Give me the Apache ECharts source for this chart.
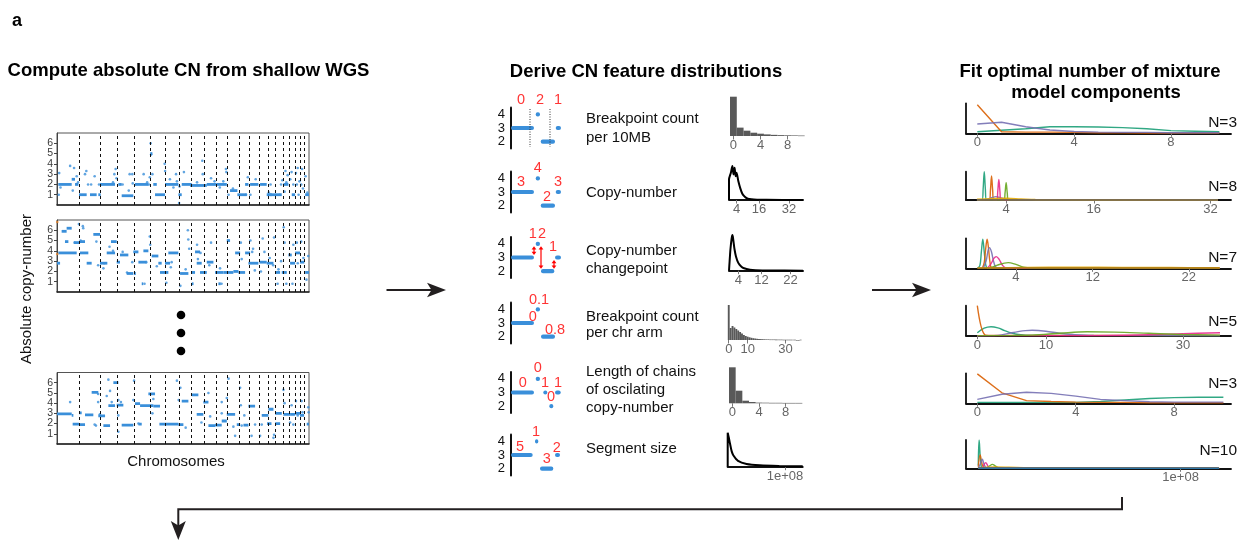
<!DOCTYPE html>
<html>
<head>
<meta charset="utf-8">
<script src="https://cdn.jsdelivr.net/npm/echarts@6/dist/echarts.min.js"></script>
<style>
  html, body { margin: 0; padding: 0; background: #fff; }
  #chart { width: 1239px; height: 540px; }
</style>
</head>
<body>
<div id="chart"></div>
<script>
// ---------------------------------------------------------------------------
// Data
// ---------------------------------------------------------------------------

// hg19 autosome lengths, Mb
const chromLengths = [249, 243, 198, 191, 181, 171, 159, 146, 141, 136, 135, 134,
                      115, 107, 103, 90, 81, 78, 59, 63, 48, 51];
const cnTicks = [1, 2, 3, 4, 5, 6];

// Copy-number segments per sample: [start Mb, end Mb, absolute CN]
const sampleASegments = [
  [15,168,2],[168,206,2.5],[206,244,2],[251,339,1],[377,453,1],[472,499,1],
  [491,663,2],[701,739,2],[739,872,0.9],[891,1044,2],[1065,1090,5],[1100,1140,2],
  [1120,1234,1],[1234,1387,2],[1387,1425,1],[1425,1540,2],[1520,1711,1.9],
  [1711,1825,2],[1825,1940,2],[1977,2061,1.4],[2061,2168,1],[2149,2187,2],
  [2206,2301,2],[2320,2396,2],[2396,2454,1],[2434,2568,1],[2587,2644,2],
  [2682,2720,1],[2835,2880,1]
];
// Isolated bins: [position Mb, absolute CN]
const sampleAPoints = [
  [20,1],[25,3.1],[40,1.7],[150,3.8],[195,3.6],[180,1.4],[225,2.8],[240,2.2],
  [320,3.0],[335,3.3],[355,2],[390,2],[480,2],[430,2.8],[655,3.0],[670,3.5],
  [680,2.6],[640,2.2],[750,2],[830,3.0],[860,3.0],[820,1.4],[865,2.1],[990,3.0],
  [1030,2.2],[1050,2.0],[1060,2.7],[1070,6.0],[1075,4.9],[1230,4.0],[1235,3.3],
  [1090,3.0],[1330,1.7],[1360,3.0],[1290,2.5],[1370,2.3],[1395,0.2],[1450,3.2],
  [1400,1.8],[1660,4.3],[1665,3.0],[1600,2.2],[1800,2.3],[1760,2.6],[1860,1.7],
  [1930,3.5],[1935,3.2],[1900,2.3],[1960,1.0],[2010,1.6],[2180,2.7],[2160,1.0],
  [2210,1.0],[2270,2.5],[2440,2.0],[2420,1.2],[2560,2.0],[2575,2.4],[2545,1.0],
  [2610,3.3],[2600,1.3],[2620,2.2],[2635,2.9],[2665,2.5],[2680,3.2],[2700,2.0],
  [2730,3.1],[2740,2.0],[2760,1.0],[2770,2.3],[2750,3.6],[2790,2.0],[2800,3.5],
  [2810,1.6],[2840,2.8],[2860,1.2]
];

const sampleBSegments = [
  [0,35,2.8],[15,225,3.8],[53,110,5.9],[110,168,6.2],[91,130,4.9],[194,263,4.8],
  [263,358,3.8],[263,320,4.9],[339,396,2.8],[415,491,5.6],[491,575,2.8],
  [568,663,3.8],[617,682,4.9],[682,720,2.9],[720,815,3.6],[796,872,1.8],
  [872,930,3.9],[930,1025,2.9],[968,985,0.8],[987,1044,4.0],[880,900,1.8],
  [1082,1158,3.5],[1158,1196,2.8],[1177,1272,1.9],[1234,1292,2.8],
  [1272,1387,3.8],[1406,1501,1.8],[1540,1560,0.8],[1540,1577,1.9],
  [1577,1634,3.9],[1596,1653,2.8],[1634,1711,1.9],[1711,1787,2.9],
  [1806,1901,1.9],[1844,1870,0.8],[1940,1977,5.0],[1901,2015,1.9],
  [2015,2073,2.0],[2073,2149,1.9],[2035,2092,3.8],[2149,2206,3.8],
  [2187,2301,2.8],[2313,2396,2.9],[2396,2473,2.8],[2492,2549,1.9],
  [2568,2625,1.9],[2644,2682,3.6],[2663,2720,2.8],[2720,2777,3.8],
  [2777,2826,2.9],[2835,2880,1.9]
];
const sampleBPoints = [
  [250,6.6],[300,6.2],[270,5.0],[295,6.4],[450,4.9],[470,2.6],[530,2.3],[200,4.8],
  [540,2.8],[600,4.4],[640,4.0],[750,3.9],[800,1.9],[860,2.9],[1000,0.8],[1020,2.9],
  [1060,5.4],[1065,4.6],[1140,2.5],[1250,0.9],[1310,2.9],[1300,2.4],[1410,0.6],
  [1470,2.2],[1500,5.1],[1495,6.0],[1510,4.2],[1640,3.8],[1600,4.6],[1610,3.2],
  [1760,4.8],[1740,2.6],[1863,2.3],[1880,0.8],[2100,4.8],[2110,3.2],[2240,4.2],
  [2210,5.0],[2230,3.9],[2260,2.1],[2330,2.0],[2350,5.2],[2370,3.9],[2470,2.6],
  [2480,5.3],[2430,3.3],[2520,0.8],[2560,3.0],[2530,2.2],[2590,6.3],[2600,4.8],
  [2620,0.8],[2690,0.8],[2700,4.6],[2740,4.8],[2750,2.8],[2790,4.9],[2815,3.3],
  [2850,1.2],[2870,3.5]
];
const sampleBFlagged = [[3,6.8],[3,3.7]];

const sampleCSegments = [
  [0,168,2.95],[168,187,2.8],[179,251,1.95],[263,320,1.9],[251,282,3.05],
  [320,415,2.85],[396,472,5.05],[472,549,2.75],[587,663,3.75],[530,606,1.8],
  [644,701,6.0],[682,758,3.8],[739,872,1.85],[891,949,3.95],[930,968,1.95],
  [949,1101,3.75],[1044,1120,4.9],[1101,1177,3.7],[1170,1387,1.95],
  [1387,1444,1.9],[1425,1501,4.2],[1540,1615,4.8],[1596,1672,2.9],
  [1672,1730,4.1],[1730,1806,1.8],[1806,1882,1.85],[1882,1940,2.25],
  [1940,2035,2.9],[2054,2092,1.9],[2130,2187,1.85],[2187,2263,3.7],
  [2339,2415,2.8],[2415,2473,3.4],[2400,2450,2.0],[2492,2568,3.0],
  [2492,2549,2.0],[2587,2663,2.9],[2663,2720,2.9],[2720,2777,3.0],
  [2777,2823,2.8],[2853,2880,1.95]
];
const sampleCPoints = [
  [150,4.1],[470,4.9],[470,4.1],[445,1.8],[490,2.9],[430,1.9],[568,4.7],[587,6.3],
  [606,5.2],[625,4.1],[701,4.3],[701,2.8],[701,1.2],[730,4.1],[880,6.2],[872,4.3],
  [930,2.0],[1101,4.4],[1090,3.0],[1370,6.2],[1390,4.3],[1410,5.5],[1470,1.6],
  [1650,2.1],[1730,5.0],[1750,2.7],[1882,4.1],[1882,3.0],[1940,4.5],[1960,6.4],
  [2015,1.7],[2035,0.8],[2092,5.5],[2100,3.8],[2110,1.8],[2140,2.8],[2223,0.8],
  [2263,1.9],[2320,0.8],[2339,1.9],[2473,0.6],[2480,0.9],[2587,5.3],[2600,4.0],
  [2663,2.1],[2700,1.9],[2680,3.8],[2730,4.2],[2750,2.8],[2795,4.2],[2805,3.1],
  [2870,3.6],[2875,3.1]
];

// Feature names (one entry per text line)
const featureNames = [
  ['Breakpoint count', 'per 10MB'],
  ['Copy-number'],
  ['Copy-number', 'changepoint'],
  ['Breakpoint count', 'per chr arm'],
  ['Length of chains', 'of oscilating', 'copy-number'],
  ['Segment size']
];

// Toy profile used in each feature sketch: [start, end, CN]
const toyProfiles = [
  [[0,23,3],[24.7,29,4],[29.7,44,2],[44.7,50,3]],
  [[0,23,3],[24.7,29,4],[29.7,44,2],[44.7,50,3]],
  [[0,23,3],[24.7,29,4],[30,43.3,2],[44,50,3]],
  [[0,23,3],[24.7,29,4],[30,44,2]],
  [[0,23,3],[24.7,29,4],[32.3,36.3,3],[38.3,42.3,2],[44,49.7,3]],
  [[0,21.7,3],[24,27.3,4],[29,42.3,2],[44,49,3]]
];
// Feature value
const toyFeatureValues = [
  ['0', '2', '1'],
  ['3', '4', '2', '3'],
  ['1', '2', '1'],
  ['0.1', '0', '0.8'],
  ['0', '0', '1', '0', '1'],
  ['5', '1', '3', '2']
];
const toyWindowBreaks = [19, 39];                 // 10MB windows in sketch 1
const toyChangepoints = [[23, 3, 4], [30, 4, 2], [43, 2, 3]];
const toyTicks = [2, 3, 4];

// Feature distributions
const breakpoint10MBFreq = [0.68, 0.145, 0.092, 0.057, 0.04, 0.028, 0.02, 0.015, 0.012, 0.01, 0.008];
const breakpoint10MBTicks = [0, 4, 8];
const copyNumberDensity = [
  [0,0],[0,0.6],[1,0.8],[1.8,1.0],[2.4,0.75],[3,0.95],[3.5,0.7],[4,0.8],[5,0.55],
  [6,0.35],[7,0.2],[8,0.12],[9,0.07],[10,0.04],[12,0.02],[15,0.01],[20,0.005],[39.5,0]
];
const copyNumberTicks = [4, 16, 32];
const changepointDensity = [
  [0.8,0],[1.0,0.25],[1.3,0.6],[1.7,0.9],[2.0,1.0],[2.3,0.85],[2.7,0.6],[3.2,0.4],
  [4,0.22],[5,0.12],[6,0.07],[8,0.03],[10,0.015],[15,0.005],[26.3,0]
];
const changepointTicks = [4, 12, 22];
const breakpointArmFreq = [
  35, 12, 14, 12.5, 11, 9.5, 8, 6.5, 5, 4, 3.3, 2.7, 2.2, 1.8, 1.5, 1.2, 1, 0.9, 0.8,
  0.7, 0.6, 0.6, 0.5, 0.5, 0.5, 0.4, 0.4, 0.4, 0.4, 0.3, 0.3, 0.3, 0.3, 0.3, 0.3,
  0.3, 0, 0, 0.3
];
const breakpointArmTicks = [0, 10, 30];
const oscillationFreq = [36, 12.6, 2.6, 1.3, 0.7, 0.6, 0.5, 0.5, 0.4, 0.4, 0.4];
const oscillationTicks = [0, 4, 8];
const segmentSizeDensity = [
  [0,0],[0,1.0],[2e6,0.85],[4e6,0.68],[7e6,0.45],[1e7,0.33],[1.8e7,0.17],
  [3.3e7,0.08],[5.6e7,0.04],[9e7,0.02],[1.31e8,0.01]
];
const segmentSizeTicks = [1e8];

// Fitted mixture components, one list of [x, density] per component
const fitBreakpoint10MB = [
  [[0,0.05],[1,0.1],[2,0.15],[3,0.22],[4,0.22],[5,0.21],[6,0.19],[7,0.15],[8,0.09],[9,0.07],[10,0.05]],
  [[0,0.95],[1,0.05],[2,0.04],[3,0.04],[4,0.03],[5,0.02],[6,0.02],[7,0.01],[8,0.01],[9,0.01],[10,0.01]],
  [[0,0.31],[1,0.37],[2,0.22],[3,0.11],[4,0.06],[5,0.04],[6,0.03],[7,0.03],[8,0.02],[9,0.02],[10,0.02]]
];
const fitCopyNumber = [
  [[0,0],[0.7,0],[0.85,0.4],[1,1.0],[1.15,0.4],[1.3,0],[33,0]],
  [[0,0],[1.7,0],[1.85,0.35],[2,0.85],[2.15,0.35],[2.3,0],[33,0]],
  [[0,0],[1,0],[2,0.08],[2.6,0.12],[3.2,0.08],[4,0.03],[5,0.01],[33,0]],
  [[0,0],[2.7,0],[2.85,0.3],[3,0.73],[3.15,0.3],[3.3,0],[33,0]],
  [[0,0],[3.7,0],[3.85,0.25],[4,0.61],[4.15,0.25],[4.3,0],[33,0]],
  [[0,0.03],[2,0.05],[4,0.06],[6,0.04],[8,0.02],[15,0.01],[33,0.005]],
  [[0,0.01],[10,0.015],[20,0.012],[33,0.01]],
  [[0,0],[33,0]]
];
const fitChangepoint = [
  [[0,0],[0.25,0.1],[0.4,0.55],[0.55,0.97],[0.7,0.55],[0.85,0.12],[1.05,0.01],[25.2,0]],
  [[0.5,0],[0.7,0.2],[0.85,0.65],[1.0,0.97],[1.15,0.65],[1.3,0.2],[1.5,0.02],[25.2,0]],
  [[0.6,0],[0.9,0.25],[1.1,0.6],[1.25,0.69],[1.45,0.55],[1.7,0.2],[2.0,0.03],[25.2,0]],
  [[1.0,0],[1.4,0.15],[1.7,0.33],[1.95,0.39],[2.25,0.3],[2.6,0.1],[3.0,0.01],[25.2,0]],
  [[1.2,0],[2,0.1],[3.2,0.19],[4,0.13],[4.8,0.04],[6,0.01],[25.2,0.005]],
  [[0,0.01],[5,0.03],[10,0.035],[15,0.03],[20,0.025],[25.2,0.02]],
  [[0,0.01],[25.2,0.01]]
];
const fitBreakpointArm = [
  [[0,0.1],[1,0.25],[2,0.3],[3,0.26],[4,0.17],[5,0.09],[6,0.04],[8,0.01],[35.4,0]],
  [[0,1.0],[1.1,0.03],[2,0.01],[35.4,0.005]],
  [[0,0],[3,0.01],[5,0.1],[7,0.17],[8,0.18],[10,0.15],[12,0.08],[14,0.04],[17,0.01],[35.4,0]],
  [[0,0],[15,0],[25,0.03],[30,0.07],[35.4,0.1]],
  [[0,0],[8,0.02],[12,0.08],[16,0.13],[20,0.12],[25,0.08],[30,0.04],[35.4,0.02]]
];
const fitOscillation = [
  [[0,0.03],[1,0.03],[2,0.03],[3,0.03],[4,0.03],[5,0.06],[6,0.11],[7,0.16],[8,0.19],[9,0.2],[10,0.2]],
  [[0,0.98],[1,0.35],[2,0.09],[3,0.06],[4,0.04],[5,0.03],[6,0.03],[7,0.02],[8,0.02],[9,0.02],[10,0.02]],
  [[0,0.13],[1,0.3],[2,0.37],[3,0.33],[4,0.24],[5,0.13],[6,0.09],[7,0.05],[8,0.04],[9,0.04],[10,0.04]]
];
const fitSegmentSize = [
  [[0,0.1],[4e5,1.0],[1.5e6,0.05],[3e6,0.01],[1.19e8,0]],
  [[0,0.05],[9e5,0.47],[2e6,0.12],[3e6,0.03],[6e6,0.01],[1.19e8,0.005]],
  [[0,0],[1e6,0.15],[2e6,0.32],[2.6e6,0.2],[3.5e6,0.05],[5e6,0.01],[1.19e8,0]],
  [[0,0],[2e6,0],[2.8e6,0.12],[3.7e6,0.2],[4.6e6,0.1],[5.5e6,0.02],[1.19e8,0]],
  [[0,0],[4e6,0],[5.5e6,0.08],[7e6,0.14],[8.5e6,0.08],[1e7,0.02],[1.19e8,0]],
  [[0,0.02],[8e6,0.05],[1.5e7,0.04],[2.5e7,0.02],[5e7,0.01],[1.19e8,0.005]],
  [[0,0.01],[2e7,0.02],[6e7,0.015],[1.19e8,0.01]],
  [[0,0.01],[1.19e8,0.01]],
  [[0,0.004],[1.19e8,0.006]],
  [[0,0],[1.19e8,0]]
];
const fitTicks = [[0, 4, 8], [4, 16, 32], [4, 12, 22], [0, 10, 30], [0, 4, 8], [1e8]];

// ---------------------------------------------------------------------------
// Styling and layout
// ---------------------------------------------------------------------------
const FONT = '"Liberation Sans", Arial, Helvetica, sans-serif';
const INK = '#231f20';
const CN_BLUE = '#3a8fda';
const RED = '#ff0000';
const HIST_GREY = '#595959';
const TICK_GREY = '#666666';
const DARK2 = ['#1B9E77', '#D95F02', '#7570B3', '#E7298A', '#66A61E',
               '#E6AB02', '#A6761D', '#666666', '#B15928', '#1F78B4'];
const colourOrder = [
  [0, 1, 2],
  [0, 1, 2, 3, 4, 5, 6, 7],
  [0, 1, 2, 3, 4, 5, 6],
  [0, 1, 2, 3, 4],
  [0, 1, 2],
  [0, 1, 2, 3, 4, 5, 6, 7, 8, 9]
];

const sciLabel = v => {
  const [m, e] = v.toExponential(0).split('e');
  return m + 'e' + e[0] + e.slice(1).padStart(2, '0');
};

// Grid i owns xAxis i and yAxis i; label-only companion y axes are appended
// after all grids so those indices stay aligned.
const grids = [], xAxes = [], yAxes = [], labelAxes = [], series = [];
function addGrid(box, x, y) {
  const i = grids.length;
  grids.push(Object.assign({ outerBoundsMode: 'none', containLabel: false }, box));
  xAxes.push(Object.assign({ gridIndex: i, type: 'value', splitLine: { show: false } }, x));
  yAxes.push(Object.assign({ gridIndex: i, type: 'value', splitLine: { show: false } }, y));
  return i;
}

// --- genome-wide copy-number profiles ------------------------------------
const genomeLen = chromLengths.reduce((a, b) => a + b, 0);
const chromBreaks = [];
chromLengths.slice(0, -1).reduce((acc, l) => { chromBreaks.push(acc + l); return acc + l; }, 0);

const profileBoxes = [
  { left: 57, top: 133, width: 252, height: 72 },
  { left: 57, top: 220, width: 252, height: 72 },
  { left: 57, top: 372.5, width: 252, height: 71.5 }
];
const profiles = [
  [sampleASegments, sampleAPoints, []],
  [sampleBSegments, sampleBPoints, sampleBFlagged],
  [sampleCSegments, sampleCPoints, []]
];
// CN ticks are 10px apart: odd and even labels sit on two coincident axes so
// neither set is thinned out by the label-overlap pass.
const cnLabel = vals => ({ customValues: vals, fontSize: 10.5, color: '#3c3c3c', margin: 4,
  fontFamily: FONT, showMinLabel: true, showMaxLabel: true });

profiles.forEach(([segs, pts, flagged], k) => {
  const gi = addGrid(
    Object.assign({ show: true, borderColor: '#555', borderWidth: 1 }, profileBoxes[k]),
    { min: 0, max: genomeLen,
      axisLine: { show: true, onZero: false, lineStyle: { color: '#222', width: 1.6 } },
      axisTick: { show: false }, axisLabel: { show: false } },
    { min: 0, max: 7,
      axisLine: { show: true, lineStyle: { color: '#444', width: 1 } },
      axisTick: { show: true, length: 3, customValues: cnTicks, lineStyle: { color: '#444' } },
      axisLabel: cnLabel(cnTicks.filter(v => v % 2 === 1)) }
  );
  labelAxes.push({ gridIndex: gi, type: 'value', min: 0, max: 7, position: 'left', offset: 0,
    splitLine: { show: false }, axisLine: { show: false }, axisTick: { show: false },
    axisLabel: cnLabel(cnTicks.filter(v => v % 2 === 0)) });
  series.push({
    type: 'custom', xAxisIndex: gi, yAxisIndex: gi, data: segs, clip: true,
    encode: { x: [0, 1], y: 2 },
    renderItem: (p, api) => {
      const a = api.coord([api.value(0), api.value(2)]);
      const b = api.coord([api.value(1), api.value(2)]);
      return { type: 'rect',
        shape: { x: a[0], y: a[1] - 1.4, width: Math.max(b[0] - a[0], 1.5), height: 2.8 },
        style: { fill: CN_BLUE } };
    },
    markLine: {
      silent: true, symbol: 'none', label: { show: false }, animation: false,
      lineStyle: { color: '#111', width: 1, type: [3, 3] },
      data: chromBreaks.map(b => ({ xAxis: b }))
    }
  });
  series.push({
    type: 'scatter', xAxisIndex: gi, yAxisIndex: gi, data: pts, symbolSize: 2.6,
    itemStyle: { color: CN_BLUE }, silent: true
  });
  if (flagged.length) {
    series.push({
      type: 'scatter', xAxisIndex: gi, yAxisIndex: gi, data: flagged, symbolSize: 2.6,
      itemStyle: { color: '#e8862a' }, silent: true, clip: false
    });
  }
});

// --- feature sketches -----------------------------------------------------
const toyTops = [107.5, 171.5, 237, 302.5, 372, 434.5];
const toyLabelAnchors = [
  [[10, 5.05], [29, 5.05], [47, 5.05]],
  [[10, 3.75], [26.7, 4.76], [36, 2.63], [47, 3.75]],
  [[21.7, 4.72], [31, 4.72], [42, 3.79]],
  [[28, 4.68], [21.7, 3.44], [44, 2.49]],
  [[11.7, 3.70], [26.7, 4.79], [34, 3.70], [40, 2.67], [47, 3.70]],
  [[9, 3.56], [25, 4.70], [35.7, 2.69], [45.7, 3.49]]
];

toyProfiles.forEach((segs, k) => {
  const gi = addGrid(
    { left: 511, top: toyTops[k], width: 51, height: 41 },
    { min: 0, max: 51, show: false },
    { min: 1.5, max: 4.5,
      axisLine: { show: true, lineStyle: { color: '#111', width: 2 } },
      axisTick: { show: false },
      axisLabel: { customValues: toyTicks, fontSize: 13, color: '#111', margin: 6,
        fontFamily: FONT, showMinLabel: true, showMaxLabel: true } }
  );
  series.push({
    type: 'custom', xAxisIndex: gi, yAxisIndex: gi, data: segs, clip: false,
    encode: { x: [0, 1], y: 2 },
    renderItem: (p, api) => {
      const a = api.coord([api.value(0), api.value(2)]);
      const b = api.coord([api.value(1), api.value(2)]);
      return { type: 'rect',
        shape: { x: a[0], y: a[1] - 2.1, width: b[0] - a[0], height: 4.2, r: 2 },
        style: { fill: CN_BLUE } };
    }
  });
  if (k === 0) {
    series.push({
      type: 'custom', xAxisIndex: gi, yAxisIndex: gi, data: toyWindowBreaks.map(x => [x]), clip: false,
      renderItem: (p, api) => {
        const a = api.coord([api.value(0), 4.39]);
        const b = api.coord([api.value(0), 1.61]);
        return { type: 'line', shape: { x1: a[0], y1: a[1], x2: b[0], y2: b[1] },
          style: { stroke: '#333', lineWidth: 1, lineDash: [1, 1.5] } };
      }
    });
  }
  if (k === 2) {
    series.push({
      type: 'custom', xAxisIndex: gi, yAxisIndex: gi, data: toyChangepoints, clip: false,
      renderItem: (p, api) => {
        const lo = Math.min(api.value(1), api.value(2)), hi = Math.max(api.value(1), api.value(2));
        const a = api.coord([api.value(0), hi]);
        const b = api.coord([api.value(0), lo]);
        const y1 = a[1] + 2.5, y2 = b[1] - 2.5, x = a[0], h = 3.2, w = 2.4;
        return { type: 'group', children: [
          { type: 'line', shape: { x1: x, y1: y1 + 2, x2: x, y2: y2 - 2 }, style: { stroke: RED, lineWidth: 1.2 } },
          { type: 'polygon', shape: { points: [[x, y1], [x - w, y1 + h], [x + w, y1 + h]] }, style: { fill: RED } },
          { type: 'polygon', shape: { points: [[x, y2], [x - w, y2 - h], [x + w, y2 - h]] }, style: { fill: RED } }
        ] };
      }
    });
  }
  series.push({
    type: 'scatter', xAxisIndex: gi, yAxisIndex: gi, clip: false, silent: true,
    symbolSize: 1, itemStyle: { color: 'rgba(0,0,0,0)' },
    data: toyFeatureValues[k].map((v, j) => ({ value: toyLabelAnchors[k][j], name: v })),
    label: { show: true, position: 'inside', formatter: p => p.name,
      color: RED, fontSize: 14.5, fontFamily: FONT }
  });
});

// --- feature distributions ------------------------------------------------
function distAxis(min, max, ticks, showLine, fmt) {
  return {
    min, max,
    axisLine: { show: showLine, onZero: false, lineStyle: { color: '#111', width: 2 } },
    axisTick: { show: true, customValues: ticks, length: 3.5, lineStyle: { color: '#777', width: 1 } },
    axisLabel: { customValues: ticks, color: TICK_GREY, fontSize: 13, margin: 3, fontFamily: FONT,
      showMinLabel: true, showMaxLabel: true, formatter: fmt || (v => String(v)) }
  };
}
function histogram(box, freq, min, max, ticks) {
  const gi = addGrid(box, distAxis(min, max, ticks, false),
    { min: 0, max: Math.max(...freq), show: false });
  series.push({
    type: 'custom', xAxisIndex: gi, yAxisIndex: gi, data: freq.map((f, i) => [i, f]),
    renderItem: (p, api) => {
      const a = api.coord([api.value(0) - 0.5, api.value(1)]);
      const b = api.coord([api.value(0) + 0.5, 0]);
      return { type: 'rect', shape: { x: a[0], y: a[1], width: b[0] - a[0], height: Math.max(b[1] - a[1], 0.6) },
        style: { fill: HIST_GREY } };
    }
  });
}
function density(box, pts, min, max, ticks, fmt) {
  const gi = addGrid(box, distAxis(min, max, ticks, true, fmt),
    { min: 0, max: 1, show: false });
  series.push({
    type: 'line', xAxisIndex: gi, yAxisIndex: gi, data: pts, symbol: 'none', clip: false,
    smooth: 0.3, lineStyle: { color: '#000', width: 2 }
  });
}
histogram({ left: 730, top: 96.7, width: 76, height: 39.3 }, breakpoint10MBFreq, -0.5, 10.7, breakpoint10MBTicks);
density({ left: 729, top: 166, width: 74, height: 34 }, copyNumberDensity, 0, 39.5, copyNumberTicks);
density({ left: 729, top: 235, width: 74, height: 35.7 }, changepointDensity, 0.8, 26.3, changepointTicks);
histogram({ left: 727.8, top: 305, width: 76.2, height: 35 }, breakpointArmFreq, -0.5, 39.8, breakpointArmTicks);
histogram({ left: 729, top: 367.3, width: 77, height: 36 }, oscillationFreq, -0.5, 11.05, oscillationTicks);
density({ left: 727.7, top: 432.7, width: 75, height: 34 }, segmentSizeDensity, 0, 1.31e8, segmentSizeTicks, sciLabel);

// --- mixture model fits ---------------------------------------------------
const fits = [fitBreakpoint10MB, fitCopyNumber, fitChangepoint, fitBreakpointArm, fitOscillation, fitSegmentSize];
const fitBoxes = [
  { left: 966, top: 103.3, width: 265, height: 30 },
  { left: 966, top: 171.7, width: 265, height: 28.3 },
  { left: 966, top: 238.3, width: 265, height: 30 },
  { left: 966, top: 305.7, width: 265, height: 30 },
  { left: 966, top: 373.3, width: 265, height: 30 },
  { left: 966, top: 440, width: 265, height: 28.3 }
];
const fitRanges = [[-0.467, 10.48], [-1.5, 34.8], [-1.2, 26.4], [-1.65, 37.0], [-0.46, 10.31], [-0.0607e8, 1.249e8]];
const fitSmooth = [false, 0.35, 0.35, 0.35, false, 0.35];

fits.forEach((comps, k) => {
  const gi = addGrid(fitBoxes[k],
    { min: fitRanges[k][0], max: fitRanges[k][1],
      axisLine: { show: true, onZero: false, lineStyle: { color: '#111', width: 1.8 } },
      axisTick: { show: true, customValues: fitTicks[k], length: 3.5, lineStyle: { color: '#777' } },
      axisLabel: { customValues: fitTicks[k], color: TICK_GREY, fontSize: 13, margin: 3, fontFamily: FONT,
        showMinLabel: true, showMaxLabel: true,
        formatter: k === 5 ? sciLabel : (v => String(v)) } },
    { min: 0, max: 1,
      axisLine: { show: true, onZero: false, lineStyle: { color: '#111', width: 1.8 } },
      axisTick: { show: false }, axisLabel: { show: false } }
  );
  comps.forEach((pts, j) => {
    series.push({
      type: 'line', xAxisIndex: gi, yAxisIndex: gi, data: pts, symbol: 'none',
      smooth: fitSmooth[k], clip: true, z: 3,
      lineStyle: { color: DARK2[colourOrder[k][j]], width: 1.4, opacity: 0.9 }
    });
  });
});

// ---------------------------------------------------------------------------
// Annotations: headings, labels, arrows
// ---------------------------------------------------------------------------
const componentCounts = [3, 8, 7, 5, 3, 10];
const fitLabelY = [122.3, 186.7, 257.3, 321.7, 383.3, 450.7];
const featureLineY = [[119, 138], [193], [250.7, 269], [316.7, 333], [371.7, 390, 408.3], [449.3]];

const txt = (text, x, y, o) => ({
  type: 'text', x, y, silent: true, z: 10,
  style: Object.assign({ text, fontFamily: FONT, fontSize: 15, fill: '#111',
    align: 'left', verticalAlign: 'middle' }, o || {})
});
const bold = { fontWeight: 'bold', fontSize: 18.5, align: 'center', fill: '#000' };

const graphic = [
  txt('a', 12, 21, { fontWeight: 'bold', fontSize: 18, fill: '#000' }),
  txt('Compute absolute CN from shallow WGS', 188.5, 71, bold),
  txt('Derive CN feature distributions', 646, 72, bold),
  txt('Fit optimal number of mixture', 1090, 72, bold),
  txt('model components', 1096, 92.5, bold),
  txt('Chromosomes', 176, 462, { align: 'center', fontSize: 15 }),
  Object.assign(txt('Absolute copy-number', 0, 0, { align: 'center', fontSize: 15 }),
    { x: 27, y: 289, rotation: Math.PI / 2 })
];
featureNames.forEach((lines, k) => lines.forEach((line, j) =>
  graphic.push(txt(line, 586, featureLineY[k][j]))));
componentCounts.forEach((n, k) =>
  graphic.push(txt('N=' + n, 1237, fitLabelY[k], { align: 'right', fontSize: 15.5 })));

[315, 333, 351].forEach(y => graphic.push({
  type: 'circle', shape: { cx: 181, cy: y, r: 4.3 }, style: { fill: '#000' }, silent: true
}));

function rightArrow(x1, x2, y) {
  graphic.push({ type: 'line', shape: { x1, y1: y, x2: x2 - 13, y2: y },
    style: { stroke: INK, lineWidth: 2 }, silent: true });
  graphic.push({ type: 'polygon', shape: { points: [[x2, y], [x2 - 19, y - 7.3], [x2 - 14.5, y], [x2 - 19, y + 7.3]] },
    style: { fill: INK }, silent: true });
}
rightArrow(386.5, 446, 290);
rightArrow(872, 931, 290);
graphic.push({ type: 'polyline', shape: { points: [[1122, 497], [1122, 509.3], [178.3, 509.3], [178.3, 528]] },
  style: { stroke: INK, lineWidth: 2, fill: null }, silent: true });
graphic.push({ type: 'polygon', shape: { points: [[178.3, 540], [170.8, 521], [178.3, 525.5], [185.8, 521]] },
  style: { fill: INK }, silent: true });

const chart = echarts.init(document.getElementById('chart'), null, { renderer: 'canvas' });
chart.setOption({
  animation: false,
  backgroundColor: '#ffffff',
  textStyle: { fontFamily: FONT },
  grid: grids,
  xAxis: xAxes,
  yAxis: yAxes.concat(labelAxes),
  series,
  graphic
});
</script>
</body>
</html>
